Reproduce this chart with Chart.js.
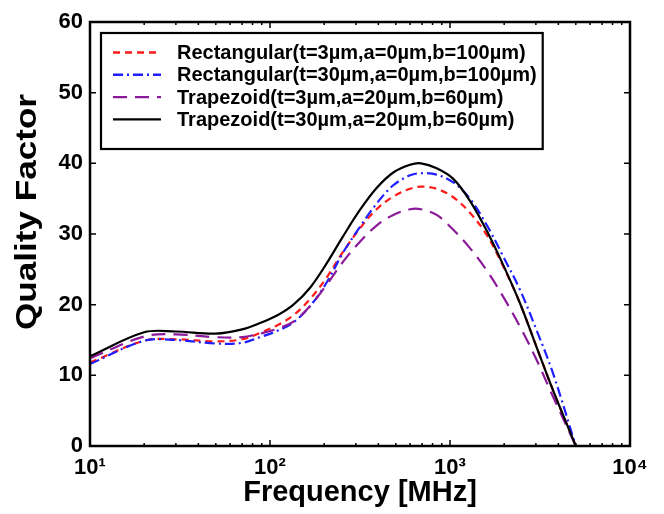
<!DOCTYPE html>
<html>
<head>
<meta charset="utf-8">
<script src="https://cdn.jsdelivr.net/npm/chart.js@4/dist/chart.umd.min.js"></script>
<style>
html,body{margin:0;padding:0;background:#fff;}
#wrap{width:664px;height:514px;}
</style>
</head>
<body>
<div id="wrap"><canvas id="c" width="664" height="514"></canvas></div>
<script>
// ---- data ----
const freqs   = [10, 20, 30, 50, 70, 88, 110, 135, 167, 206, 255, 316, 391, 484, 600, 690, 843, 1043, 1291, 1606, 1977, 2448, 3026, 3733, 5000];
const rectT3  = [11.8, 14.9, 15.1, 14.8, 15.1, 16.0, 17.1, 18.5, 20.8, 23.8, 27.5, 30.8, 33.5, 35.3, 36.4, 36.7, 36.4, 35.2, 33.0, 29.8, 25.4, 20.2, 14.0, 7.9, 0];
const rectT30 = [11.6, 14.9, 15.0, 14.5, 14.6, 15.4, 16.3, 17.5, 19.8, 23.1, 27.4, 31.0, 34.3, 36.9, 38.3, 38.6, 38.4, 37.3, 35.0, 31.2, 26.8, 22.1, 16.4, 10.3, 0];
const trapT3  = [12.4, 15.5, 15.8, 15.4, 15.4, 15.9, 16.6, 17.6, 19.8, 22.8, 26.1, 28.9, 31.2, 32.7, 33.5, 33.5, 32.7, 30.6, 28.0, 24.8, 21.1, 16.9, 12.2, 7.0, 0];
const trapT30 = [12.7, 16.1, 16.2, 15.9, 16.5, 17.4, 18.5, 20.0, 22.4, 25.8, 29.7, 33.4, 36.5, 38.7, 39.8, 40.0, 39.3, 37.8, 34.7, 30.4, 25.6, 20.2, 14.0, 7.9, 0];
const seriesLabels = [
  'Rectangular(t=3\u00b5m,a=0\u00b5m,b=100\u00b5m)',
  'Rectangular(t=30\u00b5m,a=0\u00b5m,b=100\u00b5m)',
  'Trapezoid(t=3\u00b5m,a=20\u00b5m,b=60\u00b5m)',
  'Trapezoid(t=30\u00b5m,a=20\u00b5m,b=60\u00b5m)'
];
const xTickValues = [10, 100, 1000, 10000];
const xTickLabels = ['10\u00b9', '10\u00b2', '10\u00b3', '10\u2074'];
const yTicks = [0, 10, 20, 30, 40, 50, 60];
const xTitle = 'Frequency [MHz]';
const yTitle = 'Quality Factor';

const FONT = '"Liberation Sans", Arial, sans-serif';
const toPts = vals => freqs.map((f, i) => ({x: f, y: vals[i]}));

const styles = [
  {color: '#ff1a1a', dash: [7, 5]},
  {color: '#1f1fff', dash: [10, 4, 2, 4]},
  {color: '#8a1a99', dash: [14, 8]},
  {color: '#000000', dash: []}
];
const allSeries = [rectT3, rectT30, trapT3, trapT30];

const datasets = allSeries.map((vals, i) => ({
  label: seriesLabels[i],
  data: toPts(vals),
  borderColor: styles[i].color,
  borderDash: styles[i].dash,
  borderWidth: 2.2,
  pointRadius: 0,
  fill: false,
  tension: 0.35,
  order: 3 - i
}));

// frame, inward tick marks, y title and boxed legend
const framePlugin = {
  id: 'frame',
  afterDraw(chart) {
    const ctx = chart.ctx, ca = chart.chartArea;
    const xs = chart.scales.x, ys = chart.scales.y;
    ctx.save();
    ctx.strokeStyle = '#000';
    // ticks
    ctx.lineWidth = 1.5;
    ctx.beginPath();
    yTicks.forEach(v => {
      const py = ys.getPixelForValue(v);
      ctx.moveTo(ca.left, py); ctx.lineTo(ca.left + 6, py);
      ctx.moveTo(ca.right, py); ctx.lineTo(ca.right - 6, py);
    });
    for (let d = 10; d < 10000; d *= 10) {
      for (let m = 1; m <= 10; m++) {
        const v = d * m;
        const px = xs.getPixelForValue(v);
        const len = (m === 1 || m === 10) ? 6 : 3;
        ctx.moveTo(px, ca.bottom); ctx.lineTo(px, ca.bottom - len);
        ctx.moveTo(px, ca.top); ctx.lineTo(px, ca.top + len);
      }
    }
    ctx.stroke();
    // frame
    ctx.lineWidth = 2.5;
    ctx.strokeRect(ca.left, ca.top, ca.right - ca.left, ca.bottom - ca.top);

    // y axis title (slightly elongated like the reference lettering)
    ctx.save();
    ctx.translate(ca.left - 62, ca.top + 190);
    ctx.rotate(-Math.PI / 2);
    ctx.scale(1.17, 1);
    ctx.font = 'bold 30px ' + FONT;
    ctx.fillStyle = '#000';
    ctx.textAlign = 'center';
    ctx.textBaseline = 'middle';
    ctx.fillText(yTitle, 0, 0);
    ctx.restore();

    // legend
    ctx.font = 'bold 20px ' + FONT;
    let maxW = 0;
    chart.data.datasets.forEach(ds => { maxW = Math.max(maxW, ctx.measureText(ds.label).width); });
    const bx = ca.left + 11, by = ca.top + 11;
    const textX = bx + 76;
    const bw = textX - bx + maxW + 6, bh = 116;
    ctx.fillStyle = '#fff';
    ctx.fillRect(bx, by, bw, bh);
    ctx.lineWidth = 2.2;
    ctx.strokeStyle = '#000';
    ctx.strokeRect(bx, by, bw, bh);
    chart.data.datasets.forEach((ds, i) => {
      const ry = by + 19.5 + i * 22.3;
      ctx.save();
      ctx.strokeStyle = ds.borderColor;
      ctx.lineWidth = 2.4;
      ctx.setLineDash(ds.borderDash);
      ctx.beginPath();
      ctx.moveTo(bx + 12, ry); ctx.lineTo(bx + 60, ry);
      ctx.stroke();
      ctx.restore();
      ctx.fillStyle = '#000';
      ctx.textBaseline = 'middle';
      ctx.textAlign = 'left';
      ctx.fillText(ds.label, textX, ry + 1);
    });
    ctx.restore();
  }
};

new Chart(document.getElementById('c'), {
  type: 'line',
  data: {datasets},
  plugins: [framePlugin],
  options: {
    responsive: false,
    animation: false,
    layout: {padding: {top: 22, right: 34, left: 0, bottom: 0}},
    plugins: {legend: {display: false}, tooltip: {enabled: false}},
    scales: {
      x: {
        type: 'logarithmic',
        min: 10, max: 10000,
        grid: {display: false, drawTicks: false},
        border: {display: false},
        afterBuildTicks(scale) { scale.ticks = xTickValues.map(v => ({value: v})); },
        afterFit(scale) { scale.height = 68; },
        ticks: {
          autoSkip: false,
          maxRotation: 0,
          padding: 9,
          color: '#000',
          font: {family: FONT, size: 22, weight: 'bold'},
          callback: (v) => { const k = xTickValues.indexOf(v); return k >= 0 ? xTickLabels[k] : ''; }
        },
        title: {
          display: true, text: xTitle, color: '#000',
          font: {family: FONT, size: 29, weight: 'bold'},
          padding: {top: 0, bottom: 4}
        }
      },
      y: {
        type: 'linear',
        min: 0, max: 60,
        grid: {display: false, drawTicks: false},
        border: {display: false},
        afterBuildTicks(scale) { scale.ticks = yTicks.map(v => ({value: v})); },
        afterFit(scale) { scale.width = 90; },
        ticks: {
          padding: 7,
          color: '#000',
          font: {family: FONT, size: 22, weight: 'bold'}
        },
        title: {display: false, text: yTitle}
      }
    }
  }
});
</script>
</body>
</html>
